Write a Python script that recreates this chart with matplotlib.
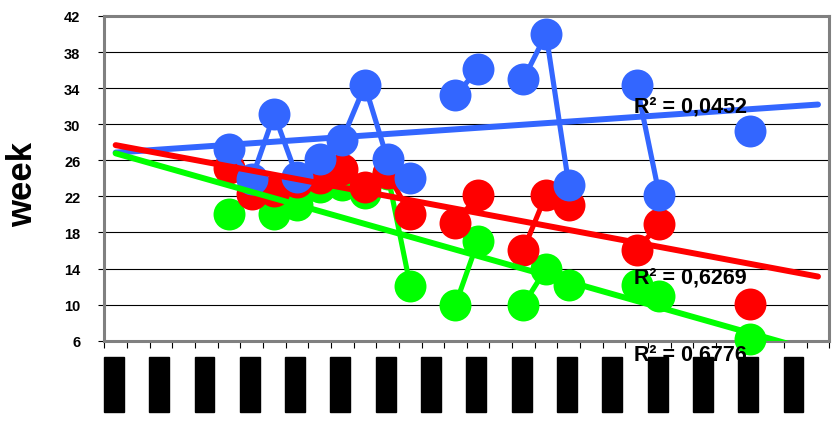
import numpy as np
import matplotlib.pyplot as plt
from matplotlib.patches import Rectangle
from matplotlib.transforms import blended_transform_factory

plt.rcParams["font.family"] = ["Liberation Sans", "DejaVu Sans"]

# 32 weekly categories; the axis labels are blacked out, one block every 2nd
categories = np.arange(32)
nan = np.nan

blue = [nan, nan, nan, nan, nan, 27.2, 23.9, 31.1, 24.2, 26.1, 28.3, 34.3,
        26.1, 24.0, nan, 33.2, 36.1, nan, 35.0, 40.0, 23.3, nan, nan, 34.3,
        22.1, nan, nan, nan, 29.3, nan, nan, nan]
red = [nan, nan, nan, nan, nan, 25.2, 22.3, 22.6, 23.6, 24.0, 25.0, 23.0,
       24.6, 20.0, nan, 19.0, 22.2, nan, 16.1, 22.2, 21.0, nan, nan, 16.1,
       18.9, nan, nan, nan, 10.1, nan, nan, nan]
green = [nan, nan, nan, nan, nan, 20.0, nan, 20.0, 21.0, 23.0, 23.3, 22.4,
         24.5, 12.1, nan, 10.0, 17.1, nan, 10.0, 14.0, 12.2, nan, nan, 12.2,
         11.0, nan, nan, nan, 6.2, nan, nan, nan]

r2_labels = ["R² = 0,0452", "R² = 0,6269", "R² = 0,6776"]
r2_pos = [(0.758, 0.749), (0.758, 0.349), (0.758, 0.169)]   # figure coords

colors = ["#3366FF", "#FF0000", "#00FF00"]
series = [blue, red, green]

fig = plt.figure(figsize=(8.36, 4.27), dpi=100)
ax = fig.add_axes([0.1248, 0.1998, 0.8672, 0.7604])

# markers and connecting lines, green at the back, blue in front
for ys, c, z in zip(series, colors, (5, 4, 3)):
    ax.plot(categories, ys, "-o", color=c, lw=3.7, ms=23, mew=0,
            zorder=z, clip_on=False)

# linear trends over the available points
for ys, c in zip(series, colors):
    y = np.array(ys)
    ok = ~np.isnan(y)
    k, b = np.polyfit(categories[ok], y[ok], 1)
    ax.plot(categories[[0, -1]], k * categories[[0, -1]] + b, color=c,
            lw=4.3, solid_capstyle="round", zorder=6)

for txt, (fx, fy) in zip(r2_labels, r2_pos):
    fig.text(fx, fy, txt, fontsize=15.5, fontweight="bold", va="center",
             ha="left", zorder=10)

ax.set_xlim(-0.5, 31.5)
ax.set_ylim(6, 42)
ax.set_yticks(np.arange(6, 43, 4))
ax.set_xticks(np.arange(-0.5, 32, 1))
ax.set_xticklabels([])
ax.tick_params(axis="y", length=4.3, width=0.8, pad=13, labelsize=10.5)
ax.tick_params(axis="x", length=5, width=0.8)
for lab in ax.get_yticklabels():
    lab.set_fontweight("bold")

ax.grid(axis="y", color="black", lw=0.8)
ax.set_axisbelow(True)
for s in ax.spines.values():
    s.set_color("#808080")
    s.set_linewidth(2.2)

fig.text(0.027, 0.567, "week", rotation=90, fontsize=25, fontweight="bold",
         ha="center", va="center")

# blacked-out category labels
tr = blended_transform_factory(ax.transData, fig.transFigure)
for i in categories[::2]:
    ax.add_patch(Rectangle((i - 0.52, 0.0335), 0.88, 0.129, color="black",
                           transform=tr, clip_on=False))

fig.savefig("out.png", dpi=100)
